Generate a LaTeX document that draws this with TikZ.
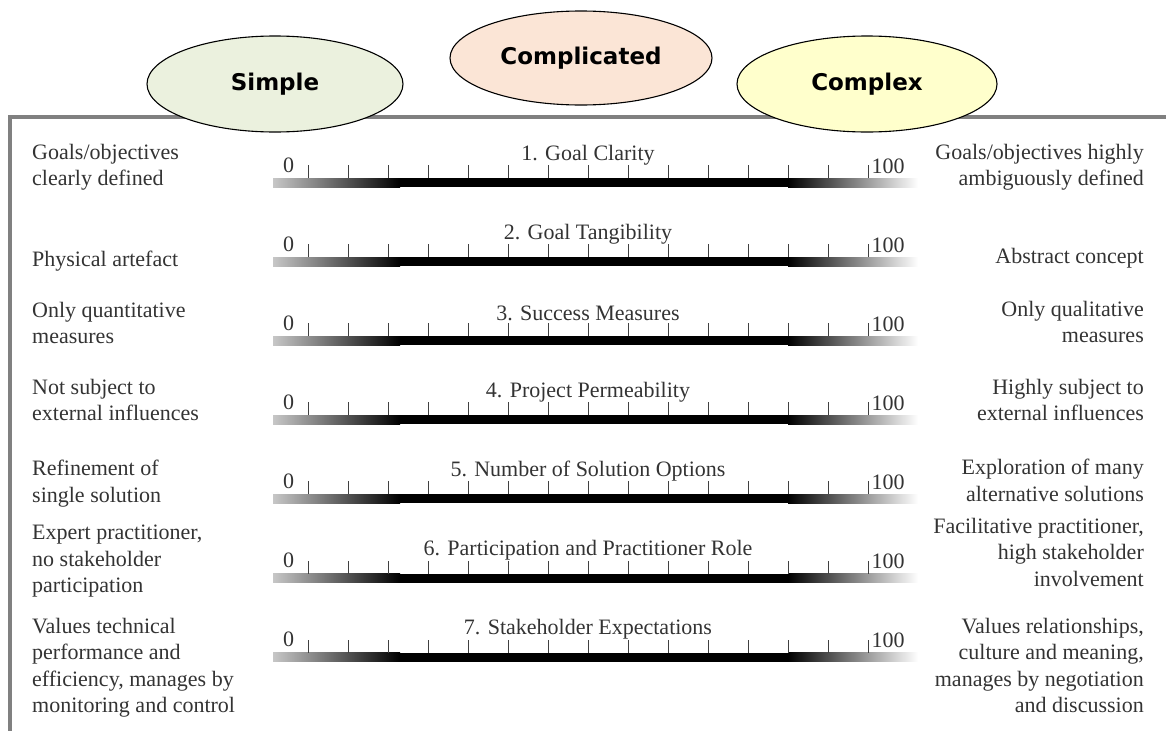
\documentclass[tikz,border=0pt]{standalone}
\usepackage{fontspec}
\setmainfont{Liberation Serif}
\newfontfamily\ovalfont{DejaVu Sans}
\usetikzlibrary{shapes.geometric}
\definecolor{simplefill}{HTML}{EBF1DE}
\definecolor{complicatedfill}{HTML}{FBE5D6}
\definecolor{complexfill}{HTML}{FFFFCC}
\tikzset{
  oval/.style={draw,ellipse,line width=1.1pt,inner sep=0pt,font=\ovalfont\bfseries\fontsize{23}{27}\selectfont},
  lefttext/.style={anchor=north west,inner sep=0pt,align=left,text=black!80,font=\fontsize{22}{26.5}\selectfont},
  righttext/.style={anchor=north east,inner sep=0pt,align=right,text=black!80,font=\fontsize{22}{26.5}\selectfont},
  scalelabel/.style={inner sep=0pt,text=black!80,font=\fontsize{22}{26.5}\selectfont}
}
\begin{document}
\begin{tikzpicture}[x=1pt,y=-1pt]
  \useasboundingbox (0,0) rectangle (1166,731);
  % frame
  \draw[black!50,line width=3.5pt] (1166,117) -- (10,117) -- (10,731);
  % the three ovals
  \node[oval,fill=simplefill,minimum width=256pt,minimum height=96pt] (simple) at (275,84) {Simple};
  \node[oval,fill=complicatedfill,minimum width=262pt,minimum height=94pt] (complicated) at (581,58) {Complicated};
  \node[oval,fill=complexfill,minimum width=260pt,minimum height=96pt] (complex) at (867,84) {Complex};
  % scales
  \foreach \k/\ttl in {1/Goal Clarity,2/Goal Tangibility,3/Success Measures,4/Project Permeability,5/Number of Solution Options,6/Participation and Practitioner Role,7/Stakeholder Expectations}{
    \pgfmathsetmacro\t{178+79.1*(\k-1)}
    \shade[left color=black!22,right color=black] (273,\t) rectangle (400,{\t+9});
    \fill[black] (399.5,\t) rectangle (788.5,{\t+9});
    \shade[left color=black,right color=white] (788,\t) rectangle (918,{\t+9});
    \foreach \i in {0,...,14}
      \draw[black!75,line width=1.1pt] ({308.5+40*\i},\t) -- ++(0,-13);
    \node[scalelabel] (title\k) at (588,{\t-23}) {\k. \ttl};
    \node[scalelabel] (zero\k) at (288.5,{\t-13}) {0};
    \node[scalelabel] (hundred\k) at (888,{\t-12}) {100};
  }
  % left end descriptions
  \node[lefttext] (left1) at (32,144) {Goals/objectives\\clearly defined};
  \node[lefttext] (left2) at (32,251) {Physical artefact};
  \node[lefttext] (left3) at (32,302) {Only quantitative\\measures};
  \node[lefttext] (left4) at (32,379) {Not subject to\\external influences};
  \node[lefttext] (left5) at (32,460) {Refinement of\\single solution};
  \node[lefttext] (left6) at (32,525) {Expert practitioner,\\no stakeholder\\participation};
  \node[lefttext] (left7) at (32,618) {Values technical\\performance and\\efficiency, manages by\\monitoring and control};
  % right end descriptions
  \node[righttext] (right1) at (1144,144) {Goals/objectives highly\\ambiguously defined};
  \node[righttext] (right2) at (1144,248) {Abstract concept};
  \node[righttext] (right3) at (1144,301) {Only qualitative\\measures};
  \node[righttext] (right4) at (1144,379) {Highly subject to\\external influences};
  \node[righttext] (right5) at (1144,459) {Exploration of many\\alternative solutions};
  \node[righttext] (right6) at (1144,518) {Facilitative practitioner,\\high stakeholder\\involvement};
  \node[righttext] (right7) at (1144,618) {Values relationships,\\culture and meaning,\\manages by negotiation\\and discussion};
\end{tikzpicture}
\end{document}
